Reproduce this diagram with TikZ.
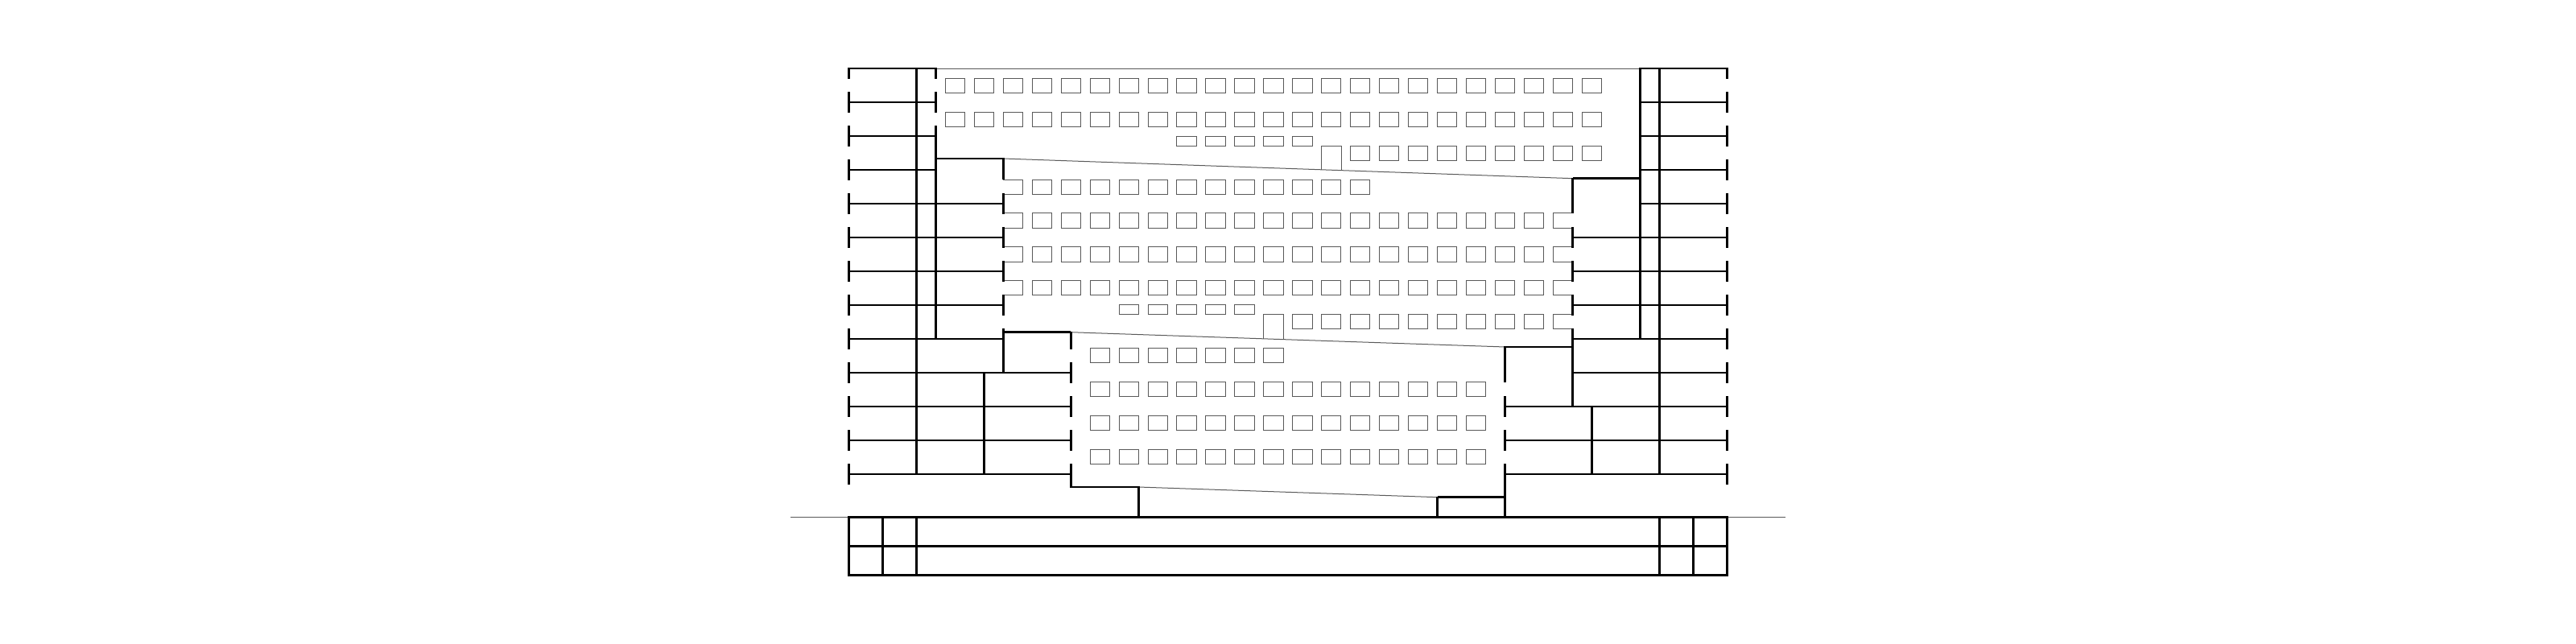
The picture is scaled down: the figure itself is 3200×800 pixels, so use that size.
\documentclass[tikz,border=0pt]{standalone}
\tikzset{
  wall/.style={line width=2.5pt,black,line cap=butt},
  slab/.style={line width=2.6pt,black,line join=miter},
  thin/.style={line width=1pt,color=black!65},
  pane/.style={line width=1pt,color=black!65,line join=miter},
}
% a row of closed windows: first column, last column, top y, height
\newcommand{\winrow}[4]{\foreach \k in {#1,...,#2}{\pgfmathsetmacro{\xa}{1174.33+35.955*\k}\draw[pane] (\xa,#3) rectangle ++(24.2,#4);}}
\newcommand{\tick}[2]{\draw[wall] (#1,#2-13) -- (#1,#2+13);}
\begin{document}
\begin{tikzpicture}[x=1pt,y=-1pt]
\useasboundingbox (0,0) rectangle (3200,800);
\def\XL{1054.3}\def\XA{1138.3}\def\XB{1162.3}\def\XC{1246.3}\def\XD{1330.3}\def\XE{1414.3}
\def\XR{2145.7}\def\XF{2061.7}\def\XG{2037.7}\def\XH{1953.7}\def\XI{1869.7}\def\XJ{1785.7}
% ---- thin lines: roof, sloping decks, ground
\draw[thin] (\XB,85.5) -- (\XG,85.5);
\draw[thin] (\XC,197) -- (\XH,221.7);
\draw[thin] (\XD,412.7) -- (\XI,431);
\draw[thin] (\XE,605) -- (\XJ,617.7);
\draw[thin] (982.3,642.3) -- (\XL,642.3);
\draw[thin] (\XR,642.3) -- (2217.7,642.3);
% ---- windows, top block
\winrow{0}{22}{97.33}{18}
\winrow{0}{22}{139.23}{18}
\winrow{14}{22}{181.13}{18}
\winrow{8}{12}{169.1}{12.2}
\draw[pane] (1641.7,210.8) -- (1641.7,181.13) -- (1666.2,181.13) -- (1666.2,211.7);
% ---- windows, middle block
\winrow{3}{14}{223}{18.2}
\winrow{3}{20}{264.9}{18.2}
\winrow{3}{20}{306.8}{18.2}
\winrow{3}{20}{348.7}{18.2}
\winrow{12}{20}{390.6}{18.2}
\winrow{6}{10}{378.7}{12.2}
\draw[pane] (1569.7,420.9) -- (1569.7,390.6) -- (1594,390.6) -- (1594,421.7);
\foreach \y in {223,264.9,306.8,348.7}{\draw[pane] (\XC,\y) -- (1270.5,\y) -- (1270.5,\y+18.2) -- (\XC,\y+18.2);}
\foreach \y in {264.9,306.8,348.7,390.6}{\draw[pane] (\XH,\y) -- (1929.4,\y) -- (1929.4,\y+18.2) -- (\XH,\y+18.2);}
% ---- windows, lower block
\winrow{5}{11}{432.5}{18.2}
\winrow{5}{18}{474.4}{18.2}
\winrow{5}{18}{516.3}{18.2}
\winrow{5}{18}{558.2}{18.2}
% ---- floors, left
\foreach \y in {85,127,169,211}{\draw[wall] (\XL,\y) -- (\XB,\y);}
\foreach \y in {253,295,337,379,421}{\draw[wall] (\XL,\y) -- (\XC,\y);}
\foreach \y in {463,505,547,589}{\draw[wall] (\XL,\y) -- (\XD,\y);}
% ---- floors, right
\foreach \y in {85,127,169,211,253}{\draw[wall] (\XG,\y) -- (\XR,\y);}
\foreach \y in {295,337,379,421,463}{\draw[wall] (\XH,\y) -- (\XR,\y);}
\foreach \y in {505,547,589}{\draw[wall] (\XI,\y) -- (\XR,\y);}
% ---- outer ticks
\draw[wall] (\XL,84) -- (\XL,98);
\draw[wall] (\XR,84) -- (\XR,98);
\foreach \y in {127,169,...,589}{\tick{\XL}{\y}\tick{\XR}{\y}}
% ---- columns, left
\draw[wall] (\XA,84) -- (\XA,589);
\draw[wall] (\XB,84) -- (\XB,98);
\tick{\XB}{127}
\draw[wall] (\XB,156) -- (\XB,422);
\draw[wall] (\XC,196) -- (\XC,223);
\foreach \y in {253,295,337,379}{\tick{\XC}{\y}}
\draw[wall] (\XC,408) -- (\XC,464);
\draw[wall] (\XD,411.7) -- (\XD,433.7);
\foreach \y in {463,505,547}{\tick{\XD}{\y}}
\draw[wall] (\XD,576) -- (\XD,606);
\draw[wall] (\XE,604) -- (\XE,642.3);
\draw[wall] (1222.3,463) -- (1222.3,589);
\draw[wall] (\XB,197) -- (\XC,197);
\draw[wall] (\XC,412.7) -- (\XD,412.7);
\draw[wall] (\XD,605) -- (\XE,605);
% ---- columns, right
\draw[wall] (\XF,84) -- (\XF,589);
\draw[wall] (\XG,84) -- (\XG,421);
\draw[wall] (\XH,220.7) -- (\XH,265);
\foreach \y in {295,337,379}{\tick{\XH}{\y}}
\draw[wall] (\XH,408) -- (\XH,505);
\draw[wall] (\XI,430) -- (\XI,475);
\foreach \y in {505,547}{\tick{\XI}{\y}}
\draw[wall] (\XI,576) -- (\XI,642.3);
\draw[wall] (\XJ,616.7) -- (\XJ,642.3);
\draw[wall] (1977.7,505) -- (1977.7,589);
\draw[wall] (\XG,221.7) -- (\XH,221.7);
\draw[wall] (\XH,431) -- (\XI,431);
\draw[wall] (\XI,617.7) -- (\XJ,617.7);
% ---- basement
\draw[slab] (\XL,642.3) rectangle (\XR,714.7);
\draw[slab] (\XL,678.7) -- (\XR,678.7);
\foreach \x in {1096.3,\XA,\XF,2103.7}{\draw[wall] (\x,642.3) -- (\x,714.7);}
\end{tikzpicture}
\end{document}
